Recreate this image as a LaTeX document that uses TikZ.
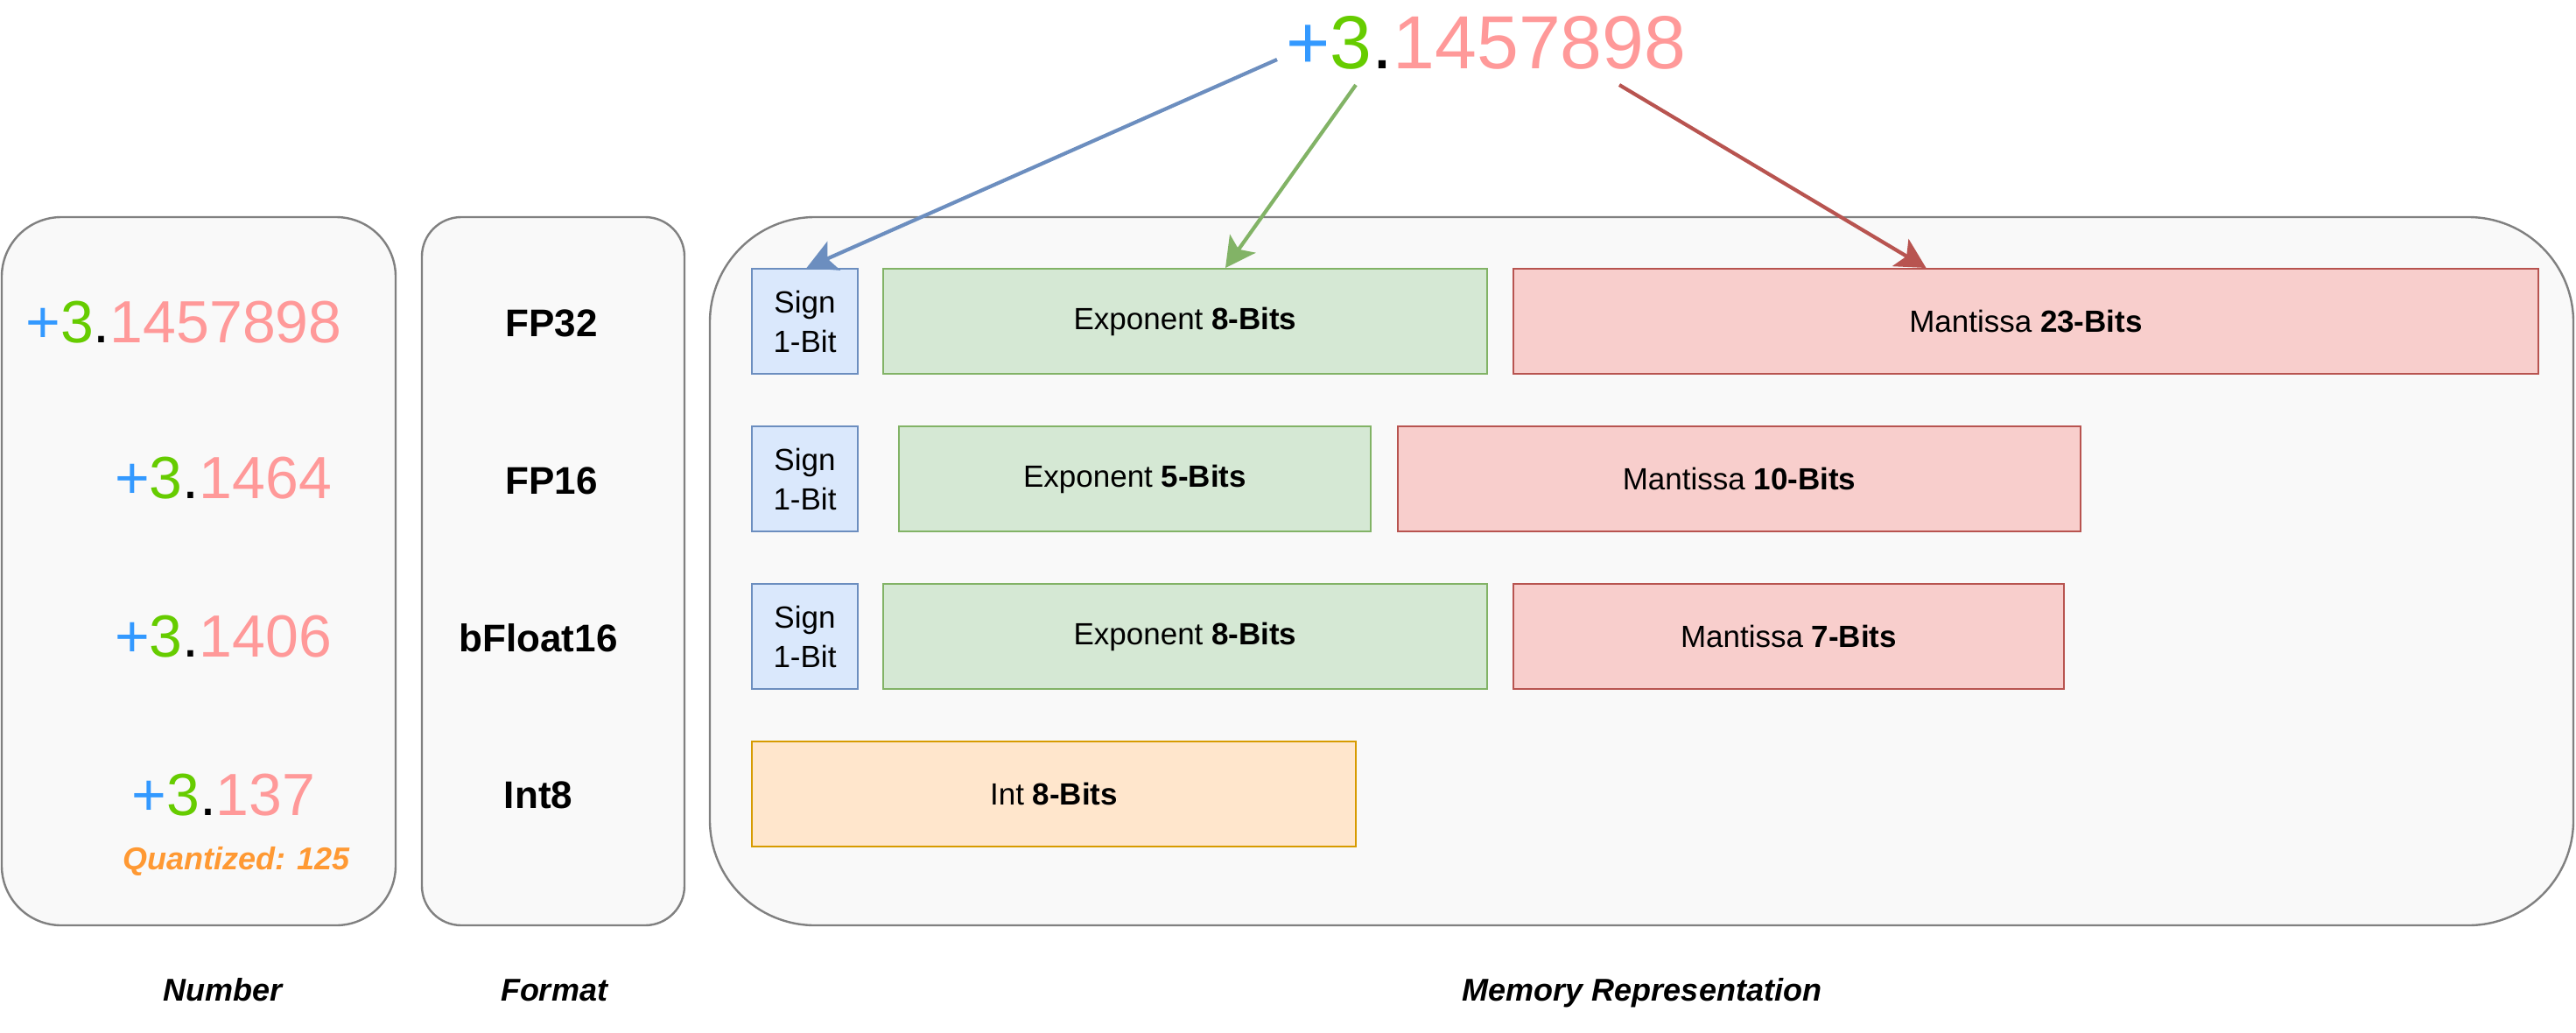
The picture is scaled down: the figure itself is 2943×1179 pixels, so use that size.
\documentclass[tikz,border=0pt]{standalone}
\usepackage{fontspec}
\setmainfont{Liberation Sans}
\usetikzlibrary{arrows.meta}
\definecolor{plusblue}{HTML}{3399FF}
\definecolor{threegreen}{HTML}{66CC00}
\definecolor{manpink}{HTML}{FF9999}
\definecolor{quantorange}{HTML}{FF9933}
\definecolor{panelgray}{HTML}{808080}
\definecolor{panelfill}{HTML}{F9F9F9}
\definecolor{signline}{HTML}{6C8EBF}
\definecolor{signfill}{HTML}{DAE8FC}
\definecolor{expline}{HTML}{82B366}
\definecolor{expfill}{HTML}{D5E8D4}
\definecolor{manline}{HTML}{B85450}
\definecolor{manfill}{HTML}{F8CECC}
\definecolor{intline}{HTML}{D79B00}
\definecolor{intfill}{HTML}{FFE6CC}
\newcommand\numfmt[1]{\textcolor{plusblue}{+}\textcolor{threegreen}{3}.\textcolor{manpink}{#1}}
\tikzset{
  panel/.style={draw=panelgray, fill=panelfill, line width=1.2pt, minimum height=404.5pt, inner sep=0pt},
  bitbox/.style={draw, line width=1pt, inner sep=0pt, minimum height=60pt, align=center,
    font=\fontsize{17.5}{22.5}\selectfont},
  signbox/.style={bitbox, draw=signline, fill=signfill, minimum width=60.5pt},
  expbox/.style={bitbox, draw=expline, fill=expfill},
  manbox/.style={bitbox, draw=manline, fill=manfill},
  intbox/.style={bitbox, draw=intline, fill=intfill},
  numtext/.style={anchor=base, inner sep=0pt, font=\fontsize{34}{40}\selectfont},
  fmttext/.style={anchor=base, inner sep=0pt, font=\fontsize{22}{26}\selectfont\bfseries},
  captext/.style={anchor=base, inner sep=0pt, font=\fontsize{18}{22}\selectfont\bfseries\itshape},
  arr/.style={line width=2.1pt, -{Stealth[length=17pt,width=18pt,inset=4pt]}}
}
\begin{document}
\begin{tikzpicture}[x=0.5pt, y=-0.5pt]
\useasboundingbox (0,0) rectangle (2943,1179);
% panels
\node[panel, rounded corners=34pt, minimum width=225pt] (numpanel) at (227,652.5) {};
\node[panel, rounded corners=22.5pt, minimum width=150pt] (fmtpanel) at (632,652.5) {};
\node[panel, rounded corners=60pt, minimum width=1064.5pt] (mempanel) at (1875.5,652.5) {};
% top number
\node[anchor=base, inner sep=0pt, font=\fontsize{43}{50}\selectfont] (top) at (1698,78) {\numfmt{1457898}};
\coordinate (tplus) at (1459,68);
\coordinate (tthree) at (1549,97);
\coordinate (tman) at (1850,97);
% number column
\node[numtext] (n1) at (210,391) {\numfmt{1457898}};
\node[numtext] (n2) at (255,569) {\numfmt{1464}};
\node[numtext] (n3) at (255,750) {\numfmt{1406}};
\node[numtext] (n4) at (255.5,931) {\numfmt{137}};
\node[anchor=base, inner sep=0pt, font=\fontsize{18}{22}\selectfont\bfseries\itshape, text=quantorange] (q) at (270,993) {Quantized: 125};
% format column
\node[fmttext] (f1) at (630,384) {FP32};
\node[fmttext] (f2) at (630,564) {FP16};
\node[fmttext] (f3) at (615,744) {bFloat16};
\node[fmttext] (f4) at (615,923) {Int8};
% row 1: FP32
\node[signbox] (s1) at (919.5,367) {Sign\\1-Bit};
\node[expbox, minimum width=345pt] (e1) at (1354,367) {Exponent \textbf{8-Bits}};
\node[manbox, minimum width=585.5pt] (m1) at (2314.5,367) {Mantissa \textbf{23-Bits}};
% row 2: FP16
\node[signbox] (s2) at (919.5,547) {Sign\\1-Bit};
\node[expbox, minimum width=269.5pt] (e2) at (1296.5,547) {Exponent \textbf{5-Bits}};
\node[manbox, minimum width=390pt] (m2) at (1987,547) {Mantissa \textbf{10-Bits}};
% row 3: bFloat16
\node[signbox] (s3) at (919.5,727) {Sign\\1-Bit};
\node[expbox, minimum width=345pt] (e3) at (1354,727) {Exponent \textbf{8-Bits}};
\node[manbox, minimum width=314.5pt] (m3) at (2043.5,727) {Mantissa \textbf{7-Bits}};
% row 4: Int8
\node[intbox, minimum width=345pt] (i4) at (1204,907) {Int \textbf{8-Bits}};
% arrows
\draw[arr, draw=signline] (tplus) -- ([xshift=1pt]s1.north);
\draw[arr, draw=expline] (tthree) -- ([xshift=23pt]e1.north);
\draw[arr, draw=manline] (tman) -- ([xshift=-57pt]m1.north);
% captions
\node[captext] (c1) at (255,1143) {Number};
\node[captext] (c2) at (633,1143) {Format};
\node[captext] (c3) at (1876,1143) {Memory Representation};
\end{tikzpicture}
\end{document}
